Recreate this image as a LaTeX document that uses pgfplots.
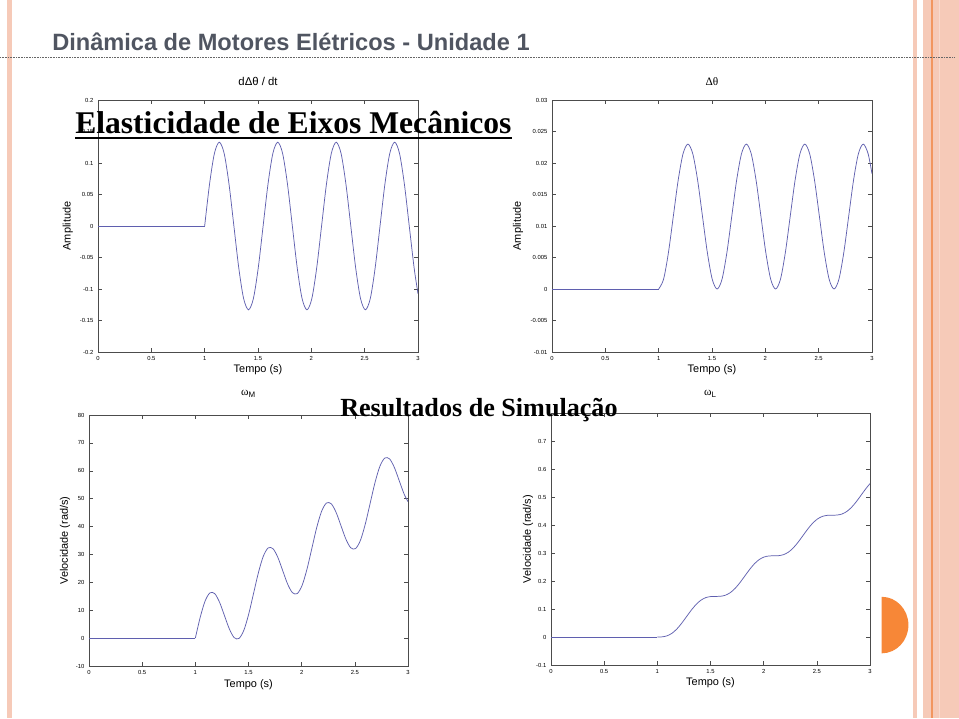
\documentclass[border=0pt]{standalone}
\usepackage{fontspec}
\setmainfont{Liberation Sans}
\newfontfamily\serif{Liberation Serif}
\usepackage{pgfplots}
\pgfplotsset{compat=1.18}
\definecolor{curve}{RGB}{95,95,175}
\definecolor{titlegray}{RGB}{80,85,97}
\definecolor{pale}{RGB}{246,202,184}
\definecolor{strong}{RGB}{242,150,95}
\definecolor{halforange}{RGB}{247,135,55}
\pgfplotsset{slide/.style={
  scale only axis, anchor=south west,
  axis line style={black!70, line width=0.4pt},
  tick style={black!70, line width=0.4pt},
  major tick length=3pt,
  tick label style={font=\fontsize{4.4}{5}\selectfont},
  label style={font=\fontsize{8.2}{9}\selectfont},
  title style={font=\fontsize{8.5}{9}\selectfont},
  xmin=0, xmax=3, xtick={0,0.5,1,1.5,2,2.5,3},
  /pgf/number format/assume math mode=true,
  /pgf/number format/.cd, fixed, precision=3, /pgfplots/.cd,
  scaled ticks=false,
  cycle list={{curve, line width=0.55pt, mark=none}},
  xlabel={Tempo (s)},
}, cv/.style={curve, line width=0.55pt, mark=none}}
\begin{document}
\begin{tikzpicture}
\path[use as bounding box] (0,0) rectangle (719.25pt,538.5pt);
\fill[white] (0,0) rectangle (719.25pt,538.5pt);
% decorations
\fill[pale] (5.3pt,0) rectangle (9.2pt,538.5pt);
\fill[pale] (685pt,0) rectangle (688pt,538.5pt);
\fill[pale] (692pt,0) rectangle (719.25pt,538.5pt);
\fill[strong] (698pt,0) rectangle (699.4pt,538.5pt);
\fill[pale!70!white] (704pt,0) rectangle (704.6pt,538.5pt);
\draw[gray!80!black, line width=0.6pt, dash pattern=on 0.6pt off 0.6pt] (0,495.75pt) -- (716pt,495.75pt);
\fill[halforange] (661.3pt,90.9pt) arc[start angle=90, end angle=-90, x radius=20pt, y radius=21.2pt] -- cycle;

% top-left
\begin{axis}[slide, at={(73.5pt,274.5pt)}, width=240pt, height=189pt,
  ymin=-0.2, ymax=0.2, ytick={-0.2,-0.15,-0.1,-0.05,0,0.05,0.1,0.15,0.2},
  title={dΔθ / dt}, title style={at={(axis description cs:0.5,1.0425)},anchor=center},
  ylabel={Amplitude}, ylabel style={at={(axis description cs:-0.094,0.5)},anchor=center},
  xlabel style={at={(axis description cs:0.5,-0.071)},anchor=center}]
\addplot[cv] coordinates {(0,0)(1,0)};
\addplot[cv, smooth] coordinates {(1,0)(1.0457,0.0665)(1.0913,0.1152)(1.1370,0.133)(1.1827,0.1152)(1.2283,0.0665)(1.2740,0)(1.3197,-0.0665)(1.3653,-0.1152)(1.4110,-0.133)(1.4567,-0.1152)(1.5023,-0.0665)(1.5480,0)(1.5937,0.0665)(1.6393,0.1152)(1.6850,0.133)(1.7307,0.1152)(1.7763,0.0665)(1.8220,0)(1.8677,-0.0665)(1.9133,-0.1152)(1.9590,-0.133)(2.0047,-0.1152)(2.0503,-0.0665)(2.0960,0)(2.1417,0.0665)(2.1873,0.1152)(2.2330,0.133)(2.2787,0.1152)(2.3243,0.0665)(2.3700,0)(2.4157,-0.0665)(2.4613,-0.1152)(2.5070,-0.133)(2.5527,-0.1152)(2.5983,-0.0665)(2.6440,0)(2.6897,0.0665)(2.7353,0.1152)(2.7810,0.133)(2.8267,0.1152)(2.8723,0.0665)(2.9180,0)(2.9637,-0.0665)(3.0,-0.1075)};
\end{axis}

% top-right
\begin{axis}[slide, at={(414pt,274.5pt)}, width=240pt, height=189pt,
  ymin=-0.01, ymax=0.03, ytick={-0.01,-0.005,0,0.005,0.01,0.015,0.02,0.025,0.03},
  title={\serif Δθ}, title style={at={(axis description cs:0.5,1.04)},anchor=center},
  ylabel={Amplitude}, ylabel style={at={(axis description cs:-0.106,0.5)},anchor=center},
  xlabel style={at={(axis description cs:0.5,-0.071)},anchor=center}]
\addplot[cv] coordinates {(0,0)(1,0)};
\addplot[cv, smooth] coordinates {(1,0)(1.0457,0.00154)(1.0913,0.00575)(1.1370,0.0115)(1.1827,0.01725)(1.2283,0.02146)(1.2740,0.023)(1.3197,0.02146)(1.3653,0.01725)(1.4110,0.0115)(1.4567,0.00575)(1.5023,0.00154)(1.5480,0)(1.5937,0.00154)(1.6393,0.00575)(1.6850,0.0115)(1.7307,0.01725)(1.7763,0.02146)(1.8220,0.023)(1.8677,0.02146)(1.9133,0.01725)(1.9590,0.0115)(2.0047,0.00575)(2.0503,0.00154)(2.0960,0)(2.1417,0.00154)(2.1873,0.00575)(2.2330,0.0115)(2.2787,0.01725)(2.3243,0.02146)(2.3700,0.023)(2.4157,0.02146)(2.4613,0.01725)(2.5070,0.0115)(2.5527,0.00575)(2.5983,0.00154)(2.6440,0)(2.6897,0.00154)(2.7353,0.00575)(2.7810,0.0115)(2.8267,0.01725)(2.8723,0.02146)(2.9180,0.023)(2.9637,0.02146)(3.0,0.01829)};
\end{axis}

% bottom-left
\begin{axis}[slide, at={(66.75pt,39pt)}, width=239.25pt, height=188.25pt,
  ymin=-10, ymax=80, ytick={-10,0,10,20,30,40,50,60,70,80},
  title={{\serif ω}\textsubscript{M}}, title style={at={(axis description cs:0.5,1.052)},anchor=center},
  ylabel={Velocidade (rad/s)}, ylabel style={at={(axis description cs:-0.075,0.5)},anchor=center},
  xlabel style={at={(axis description cs:0.5,-0.076)},anchor=center}]
\addplot[cv] coordinates {(0,0)(1,0)};
\addplot[cv, smooth] coordinates {(1,0)(1.0457,7.44)(1.0913,13.25)(1.1370,16.23)(1.1827,15.94)(1.2283,12.81)(1.2740,8.06)(1.3197,3.30)(1.3653,0.18)(1.4110,-0.12)(1.4567,2.86)(1.5023,8.67)(1.5480,16.11)(1.5937,23.55)(1.6393,29.36)(1.6850,32.34)(1.7307,32.05)(1.7763,28.92)(1.8220,24.17)(1.8677,19.41)(1.9133,16.29)(1.9590,15.99)(2.0047,18.97)(2.0503,24.78)(2.0960,32.22)(2.1417,39.67)(2.1873,45.47)(2.2330,48.45)(2.2787,48.16)(2.3243,45.04)(2.3700,40.28)(2.4157,35.52)(2.4613,32.40)(2.5070,32.11)(2.5527,35.08)(2.5983,40.89)(2.6440,48.33)(2.6897,55.78)(2.7353,61.58)(2.7810,64.56)(2.8267,64.27)(2.8723,61.15)(2.9180,56.39)(2.9637,51.63)(3.0,48.94)};
\end{axis}

% bottom-right
\begin{axis}[slide, at={(413.25pt,39.75pt)}, width=239.25pt, height=189pt,
  ymin=-0.1, ymax=0.8, ytick={-0.1,0,0.1,0.2,0.3,0.4,0.5,0.6,0.7,0.8},
  yticklabels={-0.1,0,0.1,0.2,0.3,0.4,0.5,0.6,0.7,{}},
  title={{\serif ω}\textsubscript{L}}, title style={at={(axis description cs:0.5,1.044)},anchor=center},
  ylabel={Velocidade (rad/s)}, ylabel style={at={(axis description cs:-0.072,0.5)},anchor=center},
  xlabel style={at={(axis description cs:0.5,-0.071)},anchor=center}]
\addplot[cv] coordinates {(0,0)(1,0)};
\addplot[cv, smooth] coordinates {(1,0)(1.0457,0.00054)(1.0913,0.00418)(1.1370,0.01317)(1.1827,0.02835)(1.2283,0.04888)(1.2740,0.0725)(1.3197,0.09612)(1.3653,0.11665)(1.4110,0.13183)(1.4567,0.14082)(1.5023,0.14446)(1.5480,0.145)(1.5937,0.14554)(1.6393,0.14918)(1.6850,0.15817)(1.7307,0.17335)(1.7763,0.19388)(1.8220,0.2175)(1.8677,0.24112)(1.9133,0.26165)(1.9590,0.27683)(2.0047,0.28582)(2.0503,0.28946)(2.0960,0.29)(2.1417,0.29054)(2.1873,0.29418)(2.2330,0.30317)(2.2787,0.31835)(2.3243,0.33888)(2.3700,0.3625)(2.4157,0.38612)(2.4613,0.40665)(2.5070,0.42183)(2.5527,0.43082)(2.5983,0.43446)(2.6440,0.435)(2.6897,0.43554)(2.7353,0.43918)(2.7810,0.44817)(2.8267,0.46335)(2.8723,0.48388)(2.9180,0.5075)(2.9637,0.53112)(3.0,0.5479)};
\end{axis}

% slide texts
\node[anchor=base west, inner sep=0, text=titlegray, font=\fontsize{17.7}{20}\selectfont\bfseries] at (39pt,500.25pt) {Dinâmica de Motores Elétricos - Unidade 1};
\node[anchor=base west, inner sep=0, font=\serif\fontsize{23.7}{26}\selectfont\bfseries] (el) at (56.25pt,438.5pt) {Elasticidade de Eixos Mecânicos};
\draw[line width=1.5pt] ([yshift=-3.7pt]el.base west) -- ([yshift=-3.7pt]el.base east);
\node[anchor=base west, inner sep=0, font=\serif\fontsize{19.6}{22}\selectfont\bfseries] at (255pt,226.1pt) {Resultados de Simulação};
\end{tikzpicture}
\end{document}
